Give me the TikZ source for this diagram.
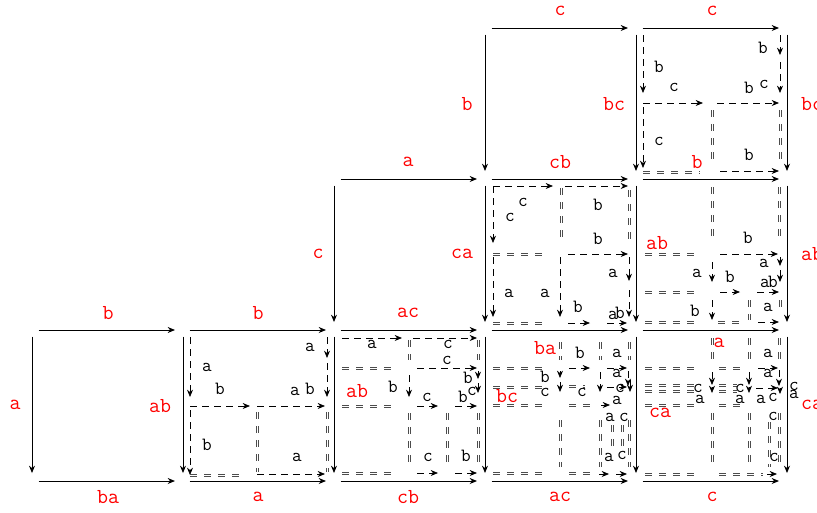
\documentclass[tikz,border=0pt]{standalone}
\usepackage{fontspec}
\usetikzlibrary{arrows.meta}

\begin{document}
\begin{tikzpicture}
[x=0.75pt,y=-0.75pt,%
  arr/.style={-{Stealth[length=5.5pt,width=4.5pt]},line width=0.7pt},%
  side/.style={arr,shorten <=5pt,shorten >=6pt},%
  da/.style={arr,line width=0.6pt,dash pattern=on 5.5pt off 3.5pt},%
  rail/.style={draw=black!70,line width=0.6pt,dash pattern=on 5.5pt off 5pt},%
  hdl/.style={draw=none,%
    preaction={rail,transform canvas={shift={(0pt,0.8pt)}}},%
    preaction={rail,transform canvas={shift={(0pt,-0.8pt)}}}},%
  vdl/.style={draw=none,%
    preaction={rail,transform canvas={shift={(0.8pt,0pt)}}},%
    preaction={rail,transform canvas={shift={(-0.8pt,0pt)}}}},%
  lbl/.style={red,font=\fontsize{16}{16}\ttfamily,inner sep=0pt},%
  sm/.style={font=\fontsize{14}{14}\ttfamily,inner sep=0pt}]
\fill[white] (0,0) rectangle (817,512);
\useasboundingbox (0,0) rectangle (817,512);

\coordinate (g30) at (485,28);
\coordinate (g40) at (636,28);
\coordinate (g50) at (787,28);
\coordinate (g21) at (334,179);
\coordinate (g31) at (485,179);
\coordinate (g41) at (636,179);
\coordinate (g51) at (787,179);
\coordinate (g02) at (32,330);
\coordinate (g12) at (183,330);
\coordinate (g22) at (334,330);
\coordinate (g32) at (485,330);
\coordinate (g42) at (636,330);
\coordinate (g52) at (787,330);
\coordinate (g03) at (32,481);
\coordinate (g13) at (183,481);
\coordinate (g23) at (334,481);
\coordinate (g33) at (485,481);
\coordinate (g43) at (636,481);
\coordinate (g53) at (787,481);

% cell (1,2)
\begin{scope}[shift={(g12)}]
\draw[da] (7,7) -- (7,67) node[sm] at (24,37) {a};
\draw[da] (7,76) -- (67,76) node[sm] at (37,59) {b};
\draw[da] (74,76) -- (142,76) node[sm] at (112,61) {a};
\draw[da] (144,7) -- (144,28) node[sm] at (127,17) {a};
\draw[da] (144,33) -- (144,67) node[sm] at (127,59) {b};
\draw[da] (7,80) -- (7,145) node[sm] at (24,115) {b};
\draw[hdl] (7,145) -- (62,145);
\draw[vdl] (74,82) -- (74,142);
\draw[vdl] (144,82) -- (144,142);
\draw[da] (74,144) -- (142,144) node[sm] at (114,127) {a};
\end{scope}

% cell (2,2)
\begin{scope}[shift={(g22)}]
\draw[da] (8,8) -- (68,8) node[sm] at (38,14) {a};
\draw[vdl] (75,10) -- (75,30);
\draw[da] (79,8) -- (143,8) node[sm] at (114,14) {c};
\draw[vdl] (144,10) -- (144,30);
\draw[hdl] (8,38) -- (63,38);
\draw[da] (83,38) -- (143,38) node[sm] at (113,30) {c};
\draw[da] (75,45) -- (75,67) node[sm] at (59,57) {b};
\draw[da] (144,41) -- (144,49) node[sm] at (134,48) {b};
\draw[da] (144,53) -- (144,63) node[sm] at (138,61) {c};
\draw[hdl] (8,76) -- (63,76);
\draw[da] (83,76) -- (104,76) node[sm] at (93,67) {c};
\draw[da] (121,76) -- (143,76) node[sm] at (129,67) {b};
\draw[vdl] (75,83) -- (75,137);
\draw[vdl] (113,83) -- (113,137);
\draw[vdl] (144,83) -- (144,137);
\draw[hdl] (8,143) -- (63,143);
\draw[da] (83,143) -- (104,143) node[sm] at (94,127) {c};
\draw[da] (121,143) -- (143,143) node[sm] at (132,126) {b};
\end{scope}

% cell (3,1)
\begin{scope}[shift={(g31)}]
\draw[da] (8,7) -- (68,7) node[sm] at (38,23) {c};
\draw[da] (8,7) -- (8,64) node[sm] at (25,38) {c};
\draw[vdl] (76,9) -- (76,63);
\draw[da] (80,7) -- (143,7) node[sm] at (113,26) {b};
\draw[vdl] (144,11) -- (144,61);
\draw[hdl] (8,75) -- (63,75);
\draw[da] (83,75) -- (143,75) node[sm] at (113,60) {b};
\draw[da] (8,78) -- (8,138) node[sm] at (24,114) {a};
\draw[da] (75,78) -- (75,138) node[sm] at (60,114) {a};
\draw[da] (144,78) -- (144,102) node[sm] at (128,94) {a};
\draw[da] (144,111) -- (144,138) node[sm] at (135,134) {b};
\draw[hdl] (8,144) -- (63,144);
\draw[da] (83,144) -- (105,144) node[sm] at (93,128) {b};
\draw[da] (122,144) -- (142,144) node[sm] at (128,136) {a};
\end{scope}

% cell (4,0)
\begin{scope}[shift={(g40)}]
\draw[da] (7,7) -- (7,65) node[sm] at (23,39) {b};
\draw[da] (7,75) -- (67,75) node[sm] at (38,59) {c};
\draw[da] (81,75) -- (143,75) node[sm] at (113,60) {b};
\draw[da] (144,7) -- (144,27) node[sm] at (127,20) {b};
\draw[da] (144,34) -- (144,65) node[sm] at (128,56) {c};
\draw[da] (7,79) -- (7,140) node[sm] at (23,113) {c};
\draw[hdl] (7,144) -- (64,144);
\draw[vdl] (76,82) -- (76,137);
\draw[vdl] (144,82) -- (144,137);
\draw[da] (84,143) -- (143,143) node[sm] at (113,127) {b};
\end{scope}

% cell (4,1)
\begin{scope}[shift={(g41)}]
\draw[vdl] (76,8) -- (76,63);
\draw[vdl] (143,8) -- (143,63);
\draw[hdl] (9,75) -- (64,75);
\draw[da] (84,75) -- (142,75) node[sm] at (112,59) {b};
\draw[da] (76,83) -- (76,103) node[sm] at (61,94) {a};
\draw[da] (144,78) -- (144,87) node[sm] at (128,84) {a};
\draw[da] (144,91) -- (144,103) node[sm] at (137,103) {b};
\draw[hdl] (9,113) -- (64,113);
\draw[da] (84,113) -- (104,113) node[sm] at (94,98) {b};
\draw[da] (121,113) -- (143,113) node[sm] at (129,104) {a};
\draw[da] (76,121) -- (76,141) node[sm] at (59,132) {b};
\draw[vdl] (113,121) -- (113,141);
\draw[vdl] (144,121) -- (144,134);
\draw[hdl] (9,143) -- (64,143);
\draw[hdl] (82,143) -- (104,143);
\draw[da] (122,143) -- (143,143) node[sm] at (132,128) {a};
\end{scope}

% cell (3,2)
\begin{scope}[shift={(g32)}]
\draw[vdl] (75,12) -- (75,30);
\draw[vdl] (115,12) -- (115,30);
\draw[vdl] (144,12) -- (144,30);
\draw[hdl] (8,38) -- (63,38);
\draw[da] (84,38) -- (105,38) node[sm] at (95,23) {b};
\draw[da] (122,38) -- (142,38) node[sm] at (132,23) {a};
\draw[da] (75,41) -- (75,48) node[sm] at (60,47) {b};
\draw[da] (75,52) -- (75,62) node[sm] at (60,62) {c};
\draw[da] (115,42) -- (115,62) node[sm] at (97,62) {c};
\draw[da] (143,41) -- (143,56) node[sm] at (132,43) {a};
\draw[hdl] (8,57) -- (63,57);
\draw[hdl] (84,56) -- (100,56);
\draw[da] (122,57) -- (142,57) node[sm] at (135,58) {c};
\draw[da] (145,50) -- (145,62);
\draw[hdl] (8,75) -- (63,75);
\draw[hdl] (84,75) -- (105,75);
\draw[da] (116,75) -- (125,75) node[sm] at (132,70) {a};
\draw[vdl] (75,90) -- (75,137);
\draw[vdl] (115,90) -- (115,137);
\draw[vdl] (127,95) -- (127,117);
\draw[vdl] (137,95) -- (137,117);
\draw[vdl] (144,90) -- (144,137);
\node[sm] (a32) at (125,87) {a};
\node[sm] (c32) at (139,87) {c};
\node[sm] (a32b) at (124,127) {a};
\node[sm] (c32b) at (137,125) {c};
\draw[hdl] (8,143) -- (63,143);
\draw[hdl] (84,143) -- (105,143);
\draw[da] (114,144) -- (124,144);
\draw[da] (131,144) -- (142,144);
\end{scope}

% cell (4,2)
\begin{scope}[shift={(g42)}]
\draw[vdl] (76,8) -- (76,30);
\draw[vdl] (113,8) -- (113,30);
\draw[vdl] (143,8) -- (143,30);
\draw[hdl] (9,38) -- (64,38);
\draw[hdl] (83,38) -- (106,38);
\draw[da] (122,38) -- (142,38) node[sm] at (132,23) {a};
\draw[da] (143,40) -- (143,56) node[sm] at (132,43) {a};
\draw[hdl] (9,55) -- (64,55);
\draw[hdl] (9,61) -- (64,61);
\draw[hdl] (83,55) -- (101,55);
\draw[hdl] (83,61) -- (101,61);
\draw[da] (76,42) -- (76,55) node[sm] at (62,58) {c};
\draw[da] (76,57) -- (76,63) node[sm] at (64,69) {a};
\draw[da] (113,42) -- (113,55) node[sm] at (104,58) {c};
\draw[da] (113,57) -- (113,63) node[sm] at (104,69) {a};
\draw[da] (120,58) -- (142,58) node[sm] at (125,69) {a};
\draw[da] (144,58) -- (144,64) node[sm] at (137,67) {c};
\node[sm] (c42r) at (158,56) {c};
\node[sm] (a42r) at (158,64) {a};
\draw[hdl] (9,75) -- (64,75);
\draw[hdl] (83,75) -- (106,75);
\node[sm] (c42) at (137,86) {c};
\draw[vdl] (76,83) -- (76,137);
\draw[vdl] (113,83) -- (113,137);
\draw[vdl] (133,92) -- (133,137);
\draw[vdl] (143,83) -- (143,137);
\node[sm] (c42b) at (138,127) {c};
\draw[hdl] (9,144) -- (64,144);
\draw[hdl] (83,144) -- (127,144);
\draw[da] (131,144) -- (141,144);
\end{scope}

% outer sides
\draw[side] (g30) -- (g40) node[lbl] at (560,11) {c};
\draw[side] (g40) -- (g50) node[lbl] at (712,11) {c};
\draw[side] (g21) -- (g31) node[lbl] at (408,162) {a};
\draw[side] (g31) -- (g41) node[lbl] at (560,162) {cb};
\draw[side] (g41) -- (g51) node[lbl] at (697,162) {b};
\draw[side] (g02) -- (g12) node[lbl] at (108,313) {b};
\draw[side] (g12) -- (g22) node[lbl] at (258,313) {b};
\draw[side] (g22) -- (g32) node[lbl] at (408,313) {ac};
\draw[side] (g32) -- (g42) node[lbl] at (545,348) {ba};
\draw[side] (g42) -- (g52) node[lbl] at (719,343) {a};
\draw[side] (g03) -- (g13) node[lbl] at (108,497) {ba};
\draw[side] (g13) -- (g23) node[lbl] at (258,497) {a};
\draw[side] (g23) -- (g33) node[lbl] at (408,497) {cb};
\draw[side] (g33) -- (g43) node[lbl] at (560,497) {ac};
\draw[side] (g43) -- (g53) node[lbl] at (712,497) {c};
\draw[side] (g02) -- (g03) node[lbl] at (15,405) {a};
\draw[side] (g12) -- (g13) node[lbl] at (160,406) {ab};
\draw[side] (g21) -- (g22) node[lbl] at (318,254) {c};
\draw[side] (g22) -- (g23) node[lbl] at (357,391) {ab};
\draw[side] (g30) -- (g31) node[lbl] at (467,104) {b};
\draw[side] (g31) -- (g32) node[lbl] at (462,254) {ca};
\draw[side] (g32) -- (g33) node[lbl] at (507,396) {bc};
\draw[side] (g40) -- (g41) node[lbl] at (614,104) {bc};
\draw[side] (g41) -- (g42) node[lbl] at (657,243) {ab};
\draw[side] (g42) -- (g43) node[lbl] at (660,413) {ca};
\draw[side] (g50) -- (g51) node[lbl] at (812,104) {bc};
\draw[side] (g51) -- (g52) node[lbl] at (812,254) {ab};
\draw[side] (g52) -- (g53) node[lbl] at (812,405) {ca};
\end{tikzpicture}
\end{document}
